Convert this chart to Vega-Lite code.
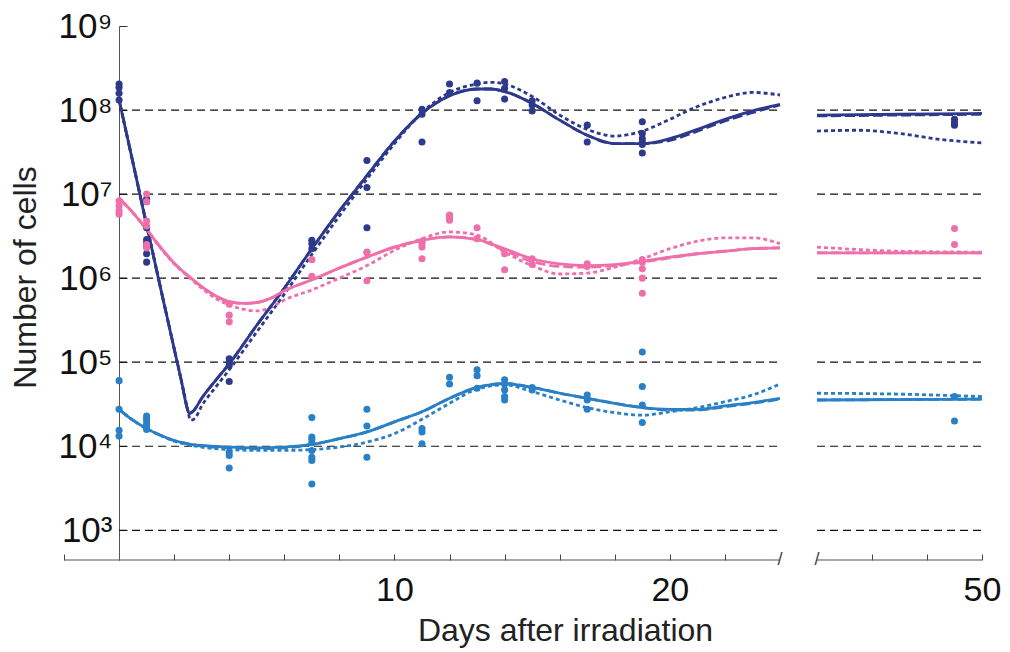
{
"$schema": "https://vega.github.io/schema/vega-lite/v6.json",
"width": 918, "height": 534,
"autosize": {"type": "none"},
"padding": {"left": 64, "top": 26, "right": 28, "bottom": 92},
"background": "white",
"config": {"view": {"stroke": null}, "font": "Liberation Sans"},
"datasets": {
"grid": [{"cells":1000},{"cells":10000},{"cells":100000},{"cells":1000000},{"cells":10000000},{"cells":100000000}],
"axisline": [{"day":-2,"end":24},{"day":44,"end":50}],
"breaks": [{"day":24},{"day":44}],
"curves": [
{"pop":"navy","model":"solid","seg":"a","day":0,"cells":1.32e8},{"pop":"navy","model":"solid","seg":"a","day":0.5,"cells":2.40e7},{"pop":"navy","model":"solid","seg":"a","day":1,"cells":4.27e6},{"pop":"navy","model":"solid","seg":"a","day":1.5,"cells":7.76e5},{"pop":"navy","model":"solid","seg":"a","day":2,"cells":1.45e5},{"pop":"navy","model":"solid","seg":"a","day":2.3,"cells":5.25e4},{"pop":"navy","model":"solid","seg":"a","day":2.45,"cells":3.02e4},{"pop":"navy","model":"solid","seg":"a","day":2.55,"cells":2.45e4},{"pop":"navy","model":"solid","seg":"a","day":2.7,"cells":2.63e4},{"pop":"navy","model":"solid","seg":"a","day":3,"cells":3.72e4},{"pop":"navy","model":"solid","seg":"a","day":3.5,"cells":6.03e4},{"pop":"navy","model":"solid","seg":"a","day":4,"cells":9.55e4},{"pop":"navy","model":"solid","seg":"a","day":5,"cells":2.75e5},{"pop":"navy","model":"solid","seg":"a","day":6,"cells":7.59e5},{"pop":"navy","model":"solid","seg":"a","day":7,"cells":2.24e6},{"pop":"navy","model":"solid","seg":"a","day":8,"cells":6.31e6},{"pop":"navy","model":"solid","seg":"a","day":9,"cells":1.66e7},{"pop":"navy","model":"solid","seg":"a","day":10,"cells":4.27e7},{"pop":"navy","model":"solid","seg":"a","day":11,"cells":9.12e7},{"pop":"navy","model":"solid","seg":"a","day":12,"cells":1.48e8},{"pop":"navy","model":"solid","seg":"a","day":13,"cells":1.78e8},{"pop":"navy","model":"solid","seg":"a","day":13.5,"cells":1.78e8},{"pop":"navy","model":"solid","seg":"a","day":14,"cells":1.66e8},{"pop":"navy","model":"solid","seg":"a","day":15,"cells":1.20e8},{"pop":"navy","model":"solid","seg":"a","day":16,"cells":7.59e7},{"pop":"navy","model":"solid","seg":"a","day":17,"cells":5.01e7},{"pop":"navy","model":"solid","seg":"a","day":18,"cells":3.98e7},{"pop":"navy","model":"solid","seg":"a","day":19,"cells":3.98e7},{"pop":"navy","model":"solid","seg":"a","day":20,"cells":4.57e7},{"pop":"navy","model":"solid","seg":"a","day":21,"cells":5.89e7},{"pop":"navy","model":"solid","seg":"a","day":22,"cells":7.76e7},{"pop":"navy","model":"solid","seg":"a","day":23,"cells":9.77e7},{"pop":"navy","model":"solid","seg":"a","day":24,"cells":1.17e8},
{"pop":"navy","model":"solid","seg":"b","day":44,"cells":8.71e7},{"pop":"navy","model":"solid","seg":"b","day":47,"cells":8.91e7},{"pop":"navy","model":"solid","seg":"b","day":50,"cells":9.12e7},
{"pop":"navy","model":"dashed","seg":"a","day":0,"cells":1.32e8},{"pop":"navy","model":"dashed","seg":"a","day":0.5,"cells":2.40e7},{"pop":"navy","model":"dashed","seg":"a","day":1,"cells":4.27e6},{"pop":"navy","model":"dashed","seg":"a","day":1.5,"cells":7.76e5},{"pop":"navy","model":"dashed","seg":"a","day":2,"cells":1.45e5},{"pop":"navy","model":"dashed","seg":"a","day":2.3,"cells":5.25e4},{"pop":"navy","model":"dashed","seg":"a","day":2.45,"cells":3.02e4},{"pop":"navy","model":"dashed","seg":"a","day":2.55,"cells":2.45e4},{"pop":"navy","model":"dashed","seg":"a","day":2.7,"cells":2.63e4},{"pop":"navy","model":"dashed","seg":"a","day":3,"cells":3.72e4},{"pop":"navy","model":"dashed","seg":"a","day":3.5,"cells":6.03e4},{"pop":"navy","model":"dashed","seg":"a","day":4,"cells":9.55e4},{"pop":"navy","model":"dashed","seg":"a","day":5,"cells":2.75e5},{"pop":"navy","model":"dashed","seg":"a","day":6,"cells":7.59e5},{"pop":"navy","model":"dashed","seg":"a","day":7,"cells":2.24e6},{"pop":"navy","model":"dashed","seg":"a","day":8,"cells":6.31e6},{"pop":"navy","model":"dashed","seg":"a","day":9,"cells":1.66e7},{"pop":"navy","model":"dashed","seg":"a","day":10,"cells":4.27e7},{"pop":"navy","model":"dashed","seg":"a","day":11,"cells":9.12e7},{"pop":"navy","model":"dashed","seg":"a","day":12,"cells":1.48e8},{"pop":"navy","model":"dashed","seg":"a","day":13,"cells":1.78e8},{"pop":"navy","model":"dashed","seg":"a","day":13.5,"cells":1.78e8},{"pop":"navy","model":"dashed","seg":"a","day":14,"cells":1.66e8},{"pop":"navy","model":"dashed","seg":"a","day":15,"cells":1.20e8},{"pop":"navy","model":"dashed","seg":"a","day":16,"cells":7.59e7},{"pop":"navy","model":"dashed","seg":"a","day":17,"cells":5.01e7},{"pop":"navy","model":"dashed","seg":"a","day":18,"cells":3.98e7},{"pop":"navy","model":"dashed","seg":"a","day":19,"cells":3.98e7},{"pop":"navy","model":"dashed","seg":"a","day":20,"cells":4.37e7},{"pop":"navy","model":"dashed","seg":"a","day":21,"cells":5.62e7},{"pop":"navy","model":"dashed","seg":"a","day":22,"cells":7.41e7},{"pop":"navy","model":"dashed","seg":"a","day":23,"cells":9.33e7},{"pop":"navy","model":"dashed","seg":"a","day":24,"cells":1.15e8},
{"pop":"navy","model":"dashed","seg":"b","day":44,"cells":8.51e7},{"pop":"navy","model":"dashed","seg":"b","day":50,"cells":8.91e7},
{"pop":"navy","model":"dotted","seg":"a","day":0,"cells":1.32e8},{"pop":"navy","model":"dotted","seg":"a","day":0.5,"cells":2.40e7},{"pop":"navy","model":"dotted","seg":"a","day":1,"cells":4.37e6},{"pop":"navy","model":"dotted","seg":"a","day":1.5,"cells":7.94e5},{"pop":"navy","model":"dotted","seg":"a","day":2,"cells":1.45e5},{"pop":"navy","model":"dotted","seg":"a","day":2.3,"cells":5.25e4},{"pop":"navy","model":"dotted","seg":"a","day":2.45,"cells":3.16e4},{"pop":"navy","model":"dotted","seg":"a","day":2.6,"cells":2.04e4},{"pop":"navy","model":"dotted","seg":"a","day":2.75,"cells":2.14e4},{"pop":"navy","model":"dotted","seg":"a","day":3,"cells":3.02e4},{"pop":"navy","model":"dotted","seg":"a","day":3.5,"cells":5.01e4},{"pop":"navy","model":"dotted","seg":"a","day":4,"cells":8.13e4},{"pop":"navy","model":"dotted","seg":"a","day":5,"cells":2.29e5},{"pop":"navy","model":"dotted","seg":"a","day":6,"cells":6.46e5},{"pop":"navy","model":"dotted","seg":"a","day":7,"cells":1.91e6},{"pop":"navy","model":"dotted","seg":"a","day":8,"cells":5.50e6},{"pop":"navy","model":"dotted","seg":"a","day":9,"cells":1.51e7},{"pop":"navy","model":"dotted","seg":"a","day":10,"cells":3.98e7},{"pop":"navy","model":"dotted","seg":"a","day":11,"cells":9.33e7},{"pop":"navy","model":"dotted","seg":"a","day":12,"cells":1.62e8},{"pop":"navy","model":"dotted","seg":"a","day":13,"cells":2.04e8},{"pop":"navy","model":"dotted","seg":"a","day":13.5,"cells":2.14e8},{"pop":"navy","model":"dotted","seg":"a","day":14,"cells":2.04e8},{"pop":"navy","model":"dotted","seg":"a","day":15,"cells":1.45e8},{"pop":"navy","model":"dotted","seg":"a","day":16,"cells":8.71e7},{"pop":"navy","model":"dotted","seg":"a","day":17,"cells":5.89e7},{"pop":"navy","model":"dotted","seg":"a","day":18,"cells":4.90e7},{"pop":"navy","model":"dotted","seg":"a","day":19,"cells":5.62e7},{"pop":"navy","model":"dotted","seg":"a","day":20,"cells":7.76e7},{"pop":"navy","model":"dotted","seg":"a","day":21,"cells":1.10e8},{"pop":"navy","model":"dotted","seg":"a","day":22,"cells":1.41e8},{"pop":"navy","model":"dotted","seg":"a","day":23,"cells":1.62e8},{"pop":"navy","model":"dotted","seg":"a","day":24,"cells":1.51e8},
{"pop":"navy","model":"dotted","seg":"b","day":44,"cells":5.62e7},{"pop":"navy","model":"dotted","seg":"b","day":45.5,"cells":5.75e7},{"pop":"navy","model":"dotted","seg":"b","day":47,"cells":5.25e7},{"pop":"navy","model":"dotted","seg":"b","day":48.5,"cells":4.47e7},{"pop":"navy","model":"dotted","seg":"b","day":50,"cells":4.07e7},
{"pop":"pink","model":"solid","seg":"a","day":0,"cells":8.91e6},{"pop":"pink","model":"solid","seg":"a","day":0.5,"cells":6.03e6},{"pop":"pink","model":"solid","seg":"a","day":1,"cells":3.80e6},{"pop":"pink","model":"solid","seg":"a","day":1.5,"cells":2.34e6},{"pop":"pink","model":"solid","seg":"a","day":2,"cells":1.51e6},{"pop":"pink","model":"solid","seg":"a","day":2.5,"cells":1.07e6},{"pop":"pink","model":"solid","seg":"a","day":3,"cells":7.94e5},{"pop":"pink","model":"solid","seg":"a","day":3.5,"cells":6.17e5},{"pop":"pink","model":"solid","seg":"a","day":4,"cells":5.25e5},{"pop":"pink","model":"solid","seg":"a","day":4.5,"cells":5.01e5},{"pop":"pink","model":"solid","seg":"a","day":5,"cells":5.13e5},{"pop":"pink","model":"solid","seg":"a","day":5.5,"cells":5.75e5},{"pop":"pink","model":"solid","seg":"a","day":6,"cells":7.08e5},{"pop":"pink","model":"solid","seg":"a","day":7,"cells":9.55e5},{"pop":"pink","model":"solid","seg":"a","day":8,"cells":1.32e6},{"pop":"pink","model":"solid","seg":"a","day":9,"cells":1.78e6},{"pop":"pink","model":"solid","seg":"a","day":10,"cells":2.34e6},{"pop":"pink","model":"solid","seg":"a","day":11,"cells":2.82e6},{"pop":"pink","model":"solid","seg":"a","day":12,"cells":3.09e6},{"pop":"pink","model":"solid","seg":"a","day":13,"cells":2.88e6},{"pop":"pink","model":"solid","seg":"a","day":14,"cells":2.24e6},{"pop":"pink","model":"solid","seg":"a","day":15,"cells":1.70e6},{"pop":"pink","model":"solid","seg":"a","day":16,"cells":1.48e6},{"pop":"pink","model":"solid","seg":"a","day":17,"cells":1.41e6},{"pop":"pink","model":"solid","seg":"a","day":18,"cells":1.45e6},{"pop":"pink","model":"solid","seg":"a","day":19,"cells":1.58e6},{"pop":"pink","model":"solid","seg":"a","day":20,"cells":1.78e6},{"pop":"pink","model":"solid","seg":"a","day":21,"cells":1.95e6},{"pop":"pink","model":"solid","seg":"a","day":22,"cells":2.09e6},{"pop":"pink","model":"solid","seg":"a","day":23,"cells":2.24e6},{"pop":"pink","model":"solid","seg":"a","day":24,"cells":2.29e6},
{"pop":"pink","model":"solid","seg":"b","day":44,"cells":2.00e6},{"pop":"pink","model":"solid","seg":"b","day":50,"cells":2.00e6},
{"pop":"pink","model":"dashed","seg":"a","day":0,"cells":8.91e6},{"pop":"pink","model":"dashed","seg":"a","day":0.5,"cells":6.03e6},{"pop":"pink","model":"dashed","seg":"a","day":1,"cells":3.80e6},{"pop":"pink","model":"dashed","seg":"a","day":1.5,"cells":2.34e6},{"pop":"pink","model":"dashed","seg":"a","day":2,"cells":1.51e6},{"pop":"pink","model":"dashed","seg":"a","day":2.5,"cells":1.07e6},{"pop":"pink","model":"dashed","seg":"a","day":3,"cells":7.94e5},{"pop":"pink","model":"dashed","seg":"a","day":3.5,"cells":6.17e5},{"pop":"pink","model":"dashed","seg":"a","day":4,"cells":5.25e5},{"pop":"pink","model":"dashed","seg":"a","day":4.5,"cells":5.01e5},{"pop":"pink","model":"dashed","seg":"a","day":5,"cells":5.13e5},{"pop":"pink","model":"dashed","seg":"a","day":5.5,"cells":5.75e5},{"pop":"pink","model":"dashed","seg":"a","day":6,"cells":7.08e5},{"pop":"pink","model":"dashed","seg":"a","day":7,"cells":9.55e5},{"pop":"pink","model":"dashed","seg":"a","day":8,"cells":1.32e6},{"pop":"pink","model":"dashed","seg":"a","day":9,"cells":1.78e6},{"pop":"pink","model":"dashed","seg":"a","day":10,"cells":2.34e6},{"pop":"pink","model":"dashed","seg":"a","day":11,"cells":2.82e6},{"pop":"pink","model":"dashed","seg":"a","day":12,"cells":3.09e6},{"pop":"pink","model":"dashed","seg":"a","day":13,"cells":2.88e6},{"pop":"pink","model":"dashed","seg":"a","day":14,"cells":2.14e6},{"pop":"pink","model":"dashed","seg":"a","day":15,"cells":1.58e6},{"pop":"pink","model":"dashed","seg":"a","day":16,"cells":1.38e6},{"pop":"pink","model":"dashed","seg":"a","day":17,"cells":1.35e6},{"pop":"pink","model":"dashed","seg":"a","day":18,"cells":1.41e6},{"pop":"pink","model":"dashed","seg":"a","day":19,"cells":1.55e6},{"pop":"pink","model":"dashed","seg":"a","day":20,"cells":1.74e6},{"pop":"pink","model":"dashed","seg":"a","day":21,"cells":1.95e6},{"pop":"pink","model":"dashed","seg":"a","day":22,"cells":2.09e6},{"pop":"pink","model":"dashed","seg":"a","day":23,"cells":2.24e6},{"pop":"pink","model":"dashed","seg":"a","day":24,"cells":2.29e6},
{"pop":"pink","model":"dashed","seg":"b","day":44,"cells":2.00e6},{"pop":"pink","model":"dashed","seg":"b","day":50,"cells":2.00e6},
{"pop":"pink","model":"dotted","seg":"a","day":0,"cells":8.91e6},{"pop":"pink","model":"dotted","seg":"a","day":0.5,"cells":6.03e6},{"pop":"pink","model":"dotted","seg":"a","day":1,"cells":3.80e6},{"pop":"pink","model":"dotted","seg":"a","day":1.5,"cells":2.29e6},{"pop":"pink","model":"dotted","seg":"a","day":2,"cells":1.48e6},{"pop":"pink","model":"dotted","seg":"a","day":2.5,"cells":1.05e6},{"pop":"pink","model":"dotted","seg":"a","day":3,"cells":7.59e5},{"pop":"pink","model":"dotted","seg":"a","day":3.5,"cells":5.75e5},{"pop":"pink","model":"dotted","seg":"a","day":4,"cells":4.79e5},{"pop":"pink","model":"dotted","seg":"a","day":4.5,"cells":4.27e5},{"pop":"pink","model":"dotted","seg":"a","day":5,"cells":4.07e5},{"pop":"pink","model":"dotted","seg":"a","day":5.5,"cells":4.47e5},{"pop":"pink","model":"dotted","seg":"a","day":6,"cells":5.50e5},{"pop":"pink","model":"dotted","seg":"a","day":7,"cells":7.24e5},{"pop":"pink","model":"dotted","seg":"a","day":8,"cells":1.00e6},{"pop":"pink","model":"dotted","seg":"a","day":9,"cells":1.41e6},{"pop":"pink","model":"dotted","seg":"a","day":10,"cells":2.14e6},{"pop":"pink","model":"dotted","seg":"a","day":11,"cells":2.95e6},{"pop":"pink","model":"dotted","seg":"a","day":12,"cells":3.55e6},{"pop":"pink","model":"dotted","seg":"a","day":13,"cells":3.24e6},{"pop":"pink","model":"dotted","seg":"a","day":14,"cells":2.04e6},{"pop":"pink","model":"dotted","seg":"a","day":15,"cells":1.41e6},{"pop":"pink","model":"dotted","seg":"a","day":16,"cells":1.12e6},{"pop":"pink","model":"dotted","seg":"a","day":17,"cells":1.15e6},{"pop":"pink","model":"dotted","seg":"a","day":18,"cells":1.35e6},{"pop":"pink","model":"dotted","seg":"a","day":19,"cells":1.70e6},{"pop":"pink","model":"dotted","seg":"a","day":20,"cells":2.24e6},{"pop":"pink","model":"dotted","seg":"a","day":21,"cells":2.75e6},{"pop":"pink","model":"dotted","seg":"a","day":22,"cells":3.02e6},{"pop":"pink","model":"dotted","seg":"a","day":23,"cells":3.02e6},{"pop":"pink","model":"dotted","seg":"a","day":24,"cells":2.57e6},
{"pop":"pink","model":"dotted","seg":"b","day":44,"cells":2.34e6},{"pop":"pink","model":"dotted","seg":"b","day":45.5,"cells":2.19e6},{"pop":"pink","model":"dotted","seg":"b","day":47,"cells":2.09e6},{"pop":"pink","model":"dotted","seg":"b","day":50,"cells":2.04e6},
{"pop":"blue","model":"solid","seg":"a","day":0,"cells":2.75e4},{"pop":"blue","model":"solid","seg":"a","day":0.5,"cells":2.04e4},{"pop":"blue","model":"solid","seg":"a","day":1,"cells":1.62e4},{"pop":"blue","model":"solid","seg":"a","day":1.5,"cells":1.35e4},{"pop":"blue","model":"solid","seg":"a","day":2,"cells":1.17e4},{"pop":"blue","model":"solid","seg":"a","day":2.5,"cells":1.07e4},{"pop":"blue","model":"solid","seg":"a","day":3,"cells":1.02e4},{"pop":"blue","model":"solid","seg":"a","day":4,"cells":9.77e3},{"pop":"blue","model":"solid","seg":"a","day":5,"cells":9.55e3},{"pop":"blue","model":"solid","seg":"a","day":6,"cells":9.77e3},{"pop":"blue","model":"solid","seg":"a","day":7,"cells":1.05e4},{"pop":"blue","model":"solid","seg":"a","day":8,"cells":1.23e4},{"pop":"blue","model":"solid","seg":"a","day":9,"cells":1.48e4},{"pop":"blue","model":"solid","seg":"a","day":10,"cells":1.95e4},{"pop":"blue","model":"solid","seg":"a","day":11,"cells":2.57e4},{"pop":"blue","model":"solid","seg":"a","day":12,"cells":3.72e4},{"pop":"blue","model":"solid","seg":"a","day":13,"cells":5.01e4},{"pop":"blue","model":"solid","seg":"a","day":14,"cells":5.56e4},{"pop":"blue","model":"solid","seg":"a","day":15,"cells":5.01e4},{"pop":"blue","model":"solid","seg":"a","day":16,"cells":4.27e4},{"pop":"blue","model":"solid","seg":"a","day":17,"cells":3.72e4},{"pop":"blue","model":"solid","seg":"a","day":18,"cells":3.24e4},{"pop":"blue","model":"solid","seg":"a","day":19,"cells":2.88e4},{"pop":"blue","model":"solid","seg":"a","day":20,"cells":2.75e4},{"pop":"blue","model":"solid","seg":"a","day":21,"cells":2.75e4},{"pop":"blue","model":"solid","seg":"a","day":22,"cells":3.02e4},{"pop":"blue","model":"solid","seg":"a","day":23,"cells":3.31e4},{"pop":"blue","model":"solid","seg":"a","day":24,"cells":3.72e4},
{"pop":"blue","model":"solid","seg":"b","day":44,"cells":3.55e4},{"pop":"blue","model":"solid","seg":"b","day":50,"cells":3.63e4},
{"pop":"blue","model":"dashed","seg":"a","day":0,"cells":2.75e4},{"pop":"blue","model":"dashed","seg":"a","day":0.5,"cells":2.04e4},{"pop":"blue","model":"dashed","seg":"a","day":1,"cells":1.62e4},{"pop":"blue","model":"dashed","seg":"a","day":1.5,"cells":1.35e4},{"pop":"blue","model":"dashed","seg":"a","day":2,"cells":1.17e4},{"pop":"blue","model":"dashed","seg":"a","day":2.5,"cells":1.07e4},{"pop":"blue","model":"dashed","seg":"a","day":3,"cells":1.00e4},{"pop":"blue","model":"dashed","seg":"a","day":4,"cells":9.55e3},{"pop":"blue","model":"dashed","seg":"a","day":5,"cells":9.33e3},{"pop":"blue","model":"dashed","seg":"a","day":6,"cells":9.55e3},{"pop":"blue","model":"dashed","seg":"a","day":7,"cells":1.05e4},{"pop":"blue","model":"dashed","seg":"a","day":8,"cells":1.23e4},{"pop":"blue","model":"dashed","seg":"a","day":9,"cells":1.48e4},{"pop":"blue","model":"dashed","seg":"a","day":10,"cells":1.95e4},{"pop":"blue","model":"dashed","seg":"a","day":11,"cells":2.57e4},{"pop":"blue","model":"dashed","seg":"a","day":12,"cells":3.72e4},{"pop":"blue","model":"dashed","seg":"a","day":13,"cells":5.01e4},{"pop":"blue","model":"dashed","seg":"a","day":14,"cells":5.56e4},{"pop":"blue","model":"dashed","seg":"a","day":15,"cells":5.01e4},{"pop":"blue","model":"dashed","seg":"a","day":16,"cells":4.27e4},{"pop":"blue","model":"dashed","seg":"a","day":17,"cells":3.72e4},{"pop":"blue","model":"dashed","seg":"a","day":18,"cells":3.24e4},{"pop":"blue","model":"dashed","seg":"a","day":19,"cells":2.88e4},{"pop":"blue","model":"dashed","seg":"a","day":20,"cells":2.69e4},{"pop":"blue","model":"dashed","seg":"a","day":21,"cells":2.69e4},{"pop":"blue","model":"dashed","seg":"a","day":22,"cells":2.95e4},{"pop":"blue","model":"dashed","seg":"a","day":23,"cells":3.24e4},{"pop":"blue","model":"dashed","seg":"a","day":24,"cells":3.63e4},
{"pop":"blue","model":"dashed","seg":"b","day":44,"cells":3.55e4},{"pop":"blue","model":"dashed","seg":"b","day":50,"cells":3.63e4},
{"pop":"blue","model":"dotted","seg":"a","day":0,"cells":2.75e4},{"pop":"blue","model":"dotted","seg":"a","day":0.5,"cells":2.04e4},{"pop":"blue","model":"dotted","seg":"a","day":1,"cells":1.62e4},{"pop":"blue","model":"dotted","seg":"a","day":1.5,"cells":1.35e4},{"pop":"blue","model":"dotted","seg":"a","day":2,"cells":1.15e4},{"pop":"blue","model":"dotted","seg":"a","day":3,"cells":9.77e3},{"pop":"blue","model":"dotted","seg":"a","day":4,"cells":9.12e3},{"pop":"blue","model":"dotted","seg":"a","day":5,"cells":8.91e3},{"pop":"blue","model":"dotted","seg":"a","day":6,"cells":8.91e3},{"pop":"blue","model":"dotted","seg":"a","day":7,"cells":9.12e3},{"pop":"blue","model":"dotted","seg":"a","day":8,"cells":9.77e3},{"pop":"blue","model":"dotted","seg":"a","day":9,"cells":1.12e4},{"pop":"blue","model":"dotted","seg":"a","day":10,"cells":1.41e4},{"pop":"blue","model":"dotted","seg":"a","day":11,"cells":2.09e4},{"pop":"blue","model":"dotted","seg":"a","day":12,"cells":3.24e4},{"pop":"blue","model":"dotted","seg":"a","day":13,"cells":4.79e4},{"pop":"blue","model":"dotted","seg":"a","day":14,"cells":5.37e4},{"pop":"blue","model":"dotted","seg":"a","day":15,"cells":4.47e4},{"pop":"blue","model":"dotted","seg":"a","day":16,"cells":3.55e4},{"pop":"blue","model":"dotted","seg":"a","day":17,"cells":2.88e4},{"pop":"blue","model":"dotted","seg":"a","day":18,"cells":2.51e4},{"pop":"blue","model":"dotted","seg":"a","day":19,"cells":2.34e4},{"pop":"blue","model":"dotted","seg":"a","day":20,"cells":2.57e4},{"pop":"blue","model":"dotted","seg":"a","day":21,"cells":2.88e4},{"pop":"blue","model":"dotted","seg":"a","day":22,"cells":3.39e4},{"pop":"blue","model":"dotted","seg":"a","day":23,"cells":4.07e4},{"pop":"blue","model":"dotted","seg":"a","day":24,"cells":5.50e4},
{"pop":"blue","model":"dotted","seg":"b","day":44,"cells":4.27e4},{"pop":"blue","model":"dotted","seg":"b","day":47,"cells":4.17e4},{"pop":"blue","model":"dotted","seg":"b","day":50,"cells":3.89e4}
],
"measured": [
{"pop":"navy","day":0,"cells":2.04e8},{"pop":"navy","day":0,"cells":1.86e8},{"pop":"navy","day":0,"cells":1.58e8},{"pop":"navy","day":0,"cells":1.32e8},
{"pop":"navy","day":1,"cells":8.71e6},{"pop":"navy","day":1,"cells":8.13e6},{"pop":"navy","day":1,"cells":3.98e6},{"pop":"navy","day":1,"cells":2.88e6},{"pop":"navy","day":1,"cells":2.63e6},{"pop":"navy","day":1,"cells":2.40e6},{"pop":"navy","day":1,"cells":1.95e6},{"pop":"navy","day":1,"cells":1.55e6},
{"pop":"navy","day":4,"cells":1.10e5},{"pop":"navy","day":4,"cells":1.00e5},{"pop":"navy","day":4,"cells":9.12e4},{"pop":"navy","day":4,"cells":5.89e4},
{"pop":"navy","day":7,"cells":2.82e6},{"pop":"navy","day":7,"cells":2.57e6},{"pop":"navy","day":7,"cells":2.24e6},
{"pop":"navy","day":9,"cells":2.51e7},{"pop":"navy","day":9,"cells":1.20e7},{"pop":"navy","day":9,"cells":3.98e6},
{"pop":"navy","day":11,"cells":1.02e8},{"pop":"navy","day":11,"cells":8.91e7},{"pop":"navy","day":11,"cells":4.17e7},
{"pop":"navy","day":12,"cells":2.04e8},{"pop":"navy","day":12,"cells":1.62e8},
{"pop":"navy","day":13,"cells":2.09e8},{"pop":"navy","day":13,"cells":1.29e8},
{"pop":"navy","day":14,"cells":2.19e8},{"pop":"navy","day":14,"cells":1.82e8},{"pop":"navy","day":14,"cells":1.35e8},
{"pop":"navy","day":15,"cells":1.29e8},{"pop":"navy","day":15,"cells":1.15e8},{"pop":"navy","day":15,"cells":9.77e7},
{"pop":"navy","day":17,"cells":6.61e7},{"pop":"navy","day":17,"cells":4.17e7},
{"pop":"navy","day":19,"cells":7.24e7},{"pop":"navy","day":19,"cells":5.25e7},{"pop":"navy","day":19,"cells":4.57e7},{"pop":"navy","day":19,"cells":4.17e7},{"pop":"navy","day":19,"cells":3.89e7},{"pop":"navy","day":19,"cells":3.09e7},
{"pop":"navy","day":49,"cells":7.76e7},{"pop":"navy","day":49,"cells":7.08e7},{"pop":"navy","day":49,"cells":6.61e7},
{"pop":"pink","day":0,"cells":8.32e6},{"pop":"pink","day":0,"cells":7.24e6},{"pop":"pink","day":0,"cells":6.31e6},{"pop":"pink","day":0,"cells":5.75e6},
{"pop":"pink","day":1,"cells":1.00e7},{"pop":"pink","day":1,"cells":8.13e6},{"pop":"pink","day":1,"cells":4.79e6},{"pop":"pink","day":1,"cells":4.17e6},{"pop":"pink","day":1,"cells":2.51e6},{"pop":"pink","day":1,"cells":2.29e6},
{"pop":"pink","day":4,"cells":4.90e5},{"pop":"pink","day":4,"cells":3.63e5},{"pop":"pink","day":4,"cells":3.02e5},
{"pop":"pink","day":7,"cells":1.66e6},{"pop":"pink","day":7,"cells":1.05e6},
{"pop":"pink","day":9,"cells":2.04e6},{"pop":"pink","day":9,"cells":2.00e6},{"pop":"pink","day":9,"cells":9.33e5},
{"pop":"pink","day":11,"cells":2.75e6},{"pop":"pink","day":11,"cells":2.57e6},{"pop":"pink","day":11,"cells":2.34e6},{"pop":"pink","day":11,"cells":1.70e6},
{"pop":"pink","day":12,"cells":5.62e6},{"pop":"pink","day":12,"cells":5.25e6},{"pop":"pink","day":12,"cells":4.90e6},
{"pop":"pink","day":13,"cells":3.98e6},{"pop":"pink","day":13,"cells":2.95e6},
{"pop":"pink","day":14,"cells":1.95e6},{"pop":"pink","day":14,"cells":1.26e6},
{"pop":"pink","day":15,"cells":1.70e6},{"pop":"pink","day":15,"cells":1.45e6},
{"pop":"pink","day":17,"cells":1.48e6},{"pop":"pink","day":17,"cells":1.38e6},
{"pop":"pink","day":19,"cells":1.66e6},{"pop":"pink","day":19,"cells":1.55e6},{"pop":"pink","day":19,"cells":1.29e6},{"pop":"pink","day":19,"cells":1.00e6},{"pop":"pink","day":19,"cells":6.61e5},
{"pop":"pink","day":49,"cells":3.89e6},{"pop":"pink","day":49,"cells":2.51e6},
{"pop":"blue","day":0,"cells":6.03e4},{"pop":"blue","day":0,"cells":2.75e4},{"pop":"blue","day":0,"cells":1.55e4},{"pop":"blue","day":0,"cells":1.32e4},
{"pop":"blue","day":1,"cells":2.29e4},{"pop":"blue","day":1,"cells":2.14e4},{"pop":"blue","day":1,"cells":2.00e4},{"pop":"blue","day":1,"cells":1.82e4},{"pop":"blue","day":1,"cells":1.74e4},{"pop":"blue","day":1,"cells":1.58e4},
{"pop":"blue","day":4,"cells":8.51e3},{"pop":"blue","day":4,"cells":7.76e3},{"pop":"blue","day":4,"cells":5.50e3},
{"pop":"blue","day":7,"cells":2.19e4},{"pop":"blue","day":7,"cells":1.29e4},{"pop":"blue","day":7,"cells":1.20e4},{"pop":"blue","day":7,"cells":1.10e4},{"pop":"blue","day":7,"cells":8.91e3},{"pop":"blue","day":7,"cells":7.41e3},{"pop":"blue","day":7,"cells":6.76e3},{"pop":"blue","day":7,"cells":3.55e3},
{"pop":"blue","day":9,"cells":2.75e4},{"pop":"blue","day":9,"cells":1.74e4},{"pop":"blue","day":9,"cells":7.41e3},
{"pop":"blue","day":11,"cells":1.62e4},{"pop":"blue","day":11,"cells":1.48e4},{"pop":"blue","day":11,"cells":1.07e4},
{"pop":"blue","day":12,"cells":6.61e4},{"pop":"blue","day":12,"cells":5.50e4},
{"pop":"blue","day":13,"cells":8.13e4},{"pop":"blue","day":13,"cells":6.92e4},{"pop":"blue","day":13,"cells":4.90e4},
{"pop":"blue","day":14,"cells":6.17e4},{"pop":"blue","day":14,"cells":5.50e4},{"pop":"blue","day":14,"cells":4.68e4},{"pop":"blue","day":14,"cells":3.89e4},{"pop":"blue","day":14,"cells":3.55e4},
{"pop":"blue","day":15,"cells":5.01e4},{"pop":"blue","day":15,"cells":4.68e4},
{"pop":"blue","day":17,"cells":4.07e4},{"pop":"blue","day":17,"cells":3.55e4},{"pop":"blue","day":17,"cells":2.75e4},
{"pop":"blue","day":19,"cells":1.32e5},{"pop":"blue","day":19,"cells":5.13e4},{"pop":"blue","day":19,"cells":3.09e4},{"pop":"blue","day":19,"cells":1.91e4},
{"pop":"blue","day":49,"cells":3.89e4},{"pop":"blue","day":49,"cells":2.00e4}
]
},
"layer": [
{"data": {"name": "grid"},
 "mark": {"type": "rule", "strokeDash": [8, 5], "color": "#111111", "strokeWidth": 1.2},
 "encoding": {
  "y": {"field": "cells", "type": "quantitative",
   "scale": {"type": "log", "domain": [443, 1000000000], "nice": false},
   "axis": {"values": [1000, 10000, 100000, 1000000, 10000000, 100000000, 1000000000], "offset": -55, "domain": true, "domainColor": "#555555", "domainWidth": 1, "grid": false, "ticks": true, "tickSize": -8, "tickColor": "#333333", "tickWidth": 1,
    "labelExpr": "'10' + ['⁰','¹','²','³','⁴','⁵','⁶','⁷','⁸','⁹'][round(log(datum.value)/LN10)]",
    "labelFont": "Liberation Sans", "labelFontSize": 35, "labelColor": "#111111", "labelPadding": 15, "labelBaseline": "middle", "labelFlush": false, "labelOverlap": false,
    "title": "Number of cells", "titleFont": "Liberation Sans", "titleFontSize": 32, "titleFontWeight": "normal", "titleColor": "#222222", "titleAngle": 270, "titleX": -84, "titleY": 251, "titleAlign": "center", "titleBaseline": "alphabetic"}},
  "x": {"datum": 0, "type": "quantitative",
   "scale": {"type": "linear", "domain": [-2, 24, 44, 50], "range": [0, 716, 753, 918], "nice": false, "zero": false},
   "axis": {"values": [-2, 0, 2, 4, 6, 8, 10, 12, 14, 16, 18, 20, 22, 46, 48, 50], "domain": false, "grid": false, "ticks": true, "tickSize": -6, "tickColor": "#444444", "tickWidth": 1,
    "labelExpr": "datum.value == 10 || datum.value == 20 || datum.value == 50 ? datum.label : ''",
    "labelFont": "Liberation Sans", "labelFontSize": 34, "labelColor": "#111111", "labelBaseline": "alphabetic", "labelPadding": 46, "labelFlush": false, "labelOverlap": false,
    "title": "Days after irradiation", "titleFont": "Liberation Sans", "titleFontSize": 32, "titleFontWeight": "normal", "titleColor": "#222222", "titleX": 501, "titleY": 80, "titleAlign": "center", "titleBaseline": "alphabetic"}},
  "x2": {"datum": 24}
 }},
{"data": {"name": "grid"},
 "mark": {"type": "rule", "strokeDash": [8, 5], "color": "#111111", "strokeWidth": 1.2},
 "encoding": {
  "y": {"field": "cells", "type": "quantitative"},
  "x": {"datum": 44, "type": "quantitative"},
  "x2": {"datum": 50}
 }},
{"data": {"name": "axisline"},
 "mark": {"type": "rule", "color": "#555555", "strokeWidth": 1.2},
 "encoding": {
  "x": {"field": "day", "type": "quantitative"},
  "x2": {"field": "end"},
  "y": {"datum": 443, "type": "quantitative"}
 }},
{"data": {"name": "breaks"},
 "mark": {"type": "text", "text": "/", "fontSize": 18, "font": "Liberation Sans", "align": "center", "baseline": "middle", "color": "#444444"},
 "encoding": {
  "x": {"field": "day", "type": "quantitative"},
  "y": {"datum": 443, "type": "quantitative"}
 }},
{"data": {"name": "curves"},
 "transform": [{"filter": "datum.model == 'dotted'"}],
 "mark": {"type": "line", "interpolate": "monotone", "strokeWidth": 2.8, "strokeDash": [4, 3]},
 "encoding": {
  "x": {"field": "day", "type": "quantitative"},
  "y": {"field": "cells", "type": "quantitative"},
  "color": {"field": "pop", "type": "nominal", "scale": {"domain": ["navy", "pink", "blue"], "range": ["#2d3a8c", "#ef6fab", "#2a80c6"]}, "legend": null},
  "detail": {"field": "seg"}
 }},
{"data": {"name": "curves"},
 "transform": [{"filter": "datum.model == 'dashed'"}],
 "mark": {"type": "line", "interpolate": "monotone", "strokeWidth": 2.8, "strokeDash": [10, 4]},
 "encoding": {
  "x": {"field": "day", "type": "quantitative"},
  "y": {"field": "cells", "type": "quantitative"},
  "color": {"field": "pop", "type": "nominal", "scale": {"domain": ["navy", "pink", "blue"], "range": ["#2d3a8c", "#ef6fab", "#2a80c6"]}, "legend": null},
  "detail": {"field": "seg"}
 }},
{"data": {"name": "curves"},
 "transform": [{"filter": "datum.model == 'solid'"}],
 "mark": {"type": "line", "interpolate": "monotone", "strokeWidth": 2.8},
 "encoding": {
  "x": {"field": "day", "type": "quantitative"},
  "y": {"field": "cells", "type": "quantitative"},
  "color": {"field": "pop", "type": "nominal", "scale": {"domain": ["navy", "pink", "blue"], "range": ["#2d3a8c", "#ef6fab", "#2a80c6"]}, "legend": null},
  "detail": {"field": "seg"}
 }},
{"data": {"name": "measured"},
 "mark": {"type": "circle", "size": 50, "opacity": 1},
 "encoding": {
  "x": {"field": "day", "type": "quantitative"},
  "y": {"field": "cells", "type": "quantitative"},
  "color": {"field": "pop", "type": "nominal", "scale": {"domain": ["navy", "pink", "blue"], "range": ["#2d3a8c", "#ef6fab", "#2a80c6"]}, "legend": null}
 }}
]
}
